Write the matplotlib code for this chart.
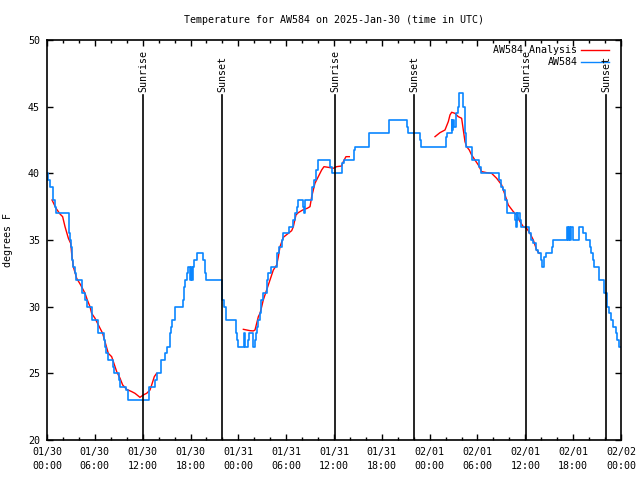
import numpy as np
import matplotlib
matplotlib.use("Agg")
import matplotlib.pyplot as plt
from matplotlib.ticker import MultipleLocator

# ----------------------------------------
# Data (hours since 2025-01-30 00:00 UTC, degrees F)
# ----------------------------------------

obs_hours = [
  0.0, 0.15, 0.4, 0.7, 0.8, 1.0, 1.1, 2.7, 2.85, 3.0, 3.1, 3.2, 3.5, 3.6,
  4.35, 4.45, 4.8, 5.0, 5.7, 6.35, 6.45, 7.15, 7.3, 7.45, 7.7, 8.25, 8.4,
  9.0, 9.2, 9.9, 10.15, 12.85, 13.55, 13.85, 14.25, 14.8, 15.1, 15.4, 15.5,
  15.7, 16.0, 16.1, 17.0, 17.15, 17.35, 17.5, 17.7, 17.9, 18.0, 18.15, 18.3,
  18.5, 18.85, 19.6, 19.8, 20.0, 21.9, 22.0, 22.15, 22.45, 23.7, 23.85, 24.0,
  24.75, 24.85, 25.2, 25.4, 25.8, 26.1, 26.2, 26.35, 26.5, 26.7, 26.9, 27.15,
  27.55, 27.75, 28.05, 28.9, 29.15, 29.45, 29.6, 30.3, 30.8, 31.1, 31.3, 31.5,
  32.05, 32.2, 32.35, 33.2, 33.3, 33.5, 33.8, 34.0, 35.55, 35.7, 37.05, 37.25,
  38.55, 38.65, 40.35, 42.95, 45.1, 45.25, 46.8, 46.95, 50.0, 50.2, 50.75,
  50.85, 50.95, 51.05, 51.3, 51.5, 51.7, 52.2, 52.4, 52.55, 53.3, 54.2, 54.5,
  56.7, 56.9, 57.2, 57.45, 57.65, 57.75, 58.7, 58.8, 58.9, 59.0, 59.1, 59.3,
  59.45, 60.5, 60.7, 61.0, 61.35, 61.55, 61.95, 62.15, 62.35, 62.55, 63.3,
  63.5, 65.18, 65.35, 65.47, 65.6, 65.72, 65.93, 66.77, 67.2, 67.6, 68.1,
  68.25, 68.45, 68.6, 69.25, 69.9, 70.2, 70.5, 70.8, 71.0, 71.35, 71.55,
  71.75, 72.0,
]
obs_temps = [
  40, 39.5, 39, 38.5, 38, 37.5, 37, 35.5, 35, 34.5, 33.5, 33, 32.5, 32,
  31.5, 31, 30.5, 30, 29, 28.5, 28, 27.5, 27, 26.5, 26, 25.5, 25,
  24.5, 24, 23.75, 23, 24, 24.5, 25, 26, 26.5, 27, 28, 28.5,
  29, 29.5, 30, 30.5, 31.5, 32, 32.5, 33, 32, 33, 32, 33,
  33.5, 34, 33.5, 32.5, 32, 31.5, 30.5, 30, 29, 28, 27.5, 27,
  28, 27, 27.5, 28, 27, 27.5, 28, 28.5, 29, 29.5, 30.5, 31,
  32, 32.5, 33, 34, 34.5, 35, 35.5, 36, 36.5, 37, 37.5, 38,
  37.5, 37, 38, 38.5, 39, 39.5, 40.25, 41, 40.5, 40, 40.75, 41,
  41.75, 42, 43, 44, 43.5, 43, 42.5, 42, 42.75, 43, 44,
  43.25, 44, 43.5, 44.5, 45, 46, 45, 43, 42, 41, 40.5, 40,
  39.5, 39, 38.75, 38, 37.5, 37, 36.5, 36, 37, 36.5, 37, 36.5,
  36, 35.5, 35, 34.75, 34.25, 34, 33.5, 33, 33.75, 34, 34.5,
  35, 36, 35, 36, 35, 36, 35, 36, 35.5, 35, 34.5,
  34, 33.5, 33, 32, 31, 30, 29.5, 29, 28.5, 28, 27.5,
  27, 27,
]

# analysis curve, None marks a gap
ana_hours = [
  0.63, 1.13, 1.63, 1.96, 2.26, 2.68, 2.97, 3.09, 3.30, 3.72, 4.22, 4.77,
  5.06, 5.39, 5.60, 6.02, 6.44, 6.98, 7.27, 7.69, 8.11, 8.32, 8.74, 9.16,
  9.49, 9.99, 10.62, 11.04, 11.66, 12.08, 12.5, 12.92, 13.13, 13.46, 13.75,
  None,
  24.63, 25.46, 25.88, 26.09, 26.3, 26.51, 26.72, 26.93, 27.13, 27.55, 27.97,
  28.39, 28.81, 29.02, 29.23, 29.64, 30.27, 30.69, 30.9, 31.23, 31.52, 32.07,
  32.65, 32.99, 33.2, 33.61, 34.03, 34.45, 34.74, 35.29, 35.91, 36.33, 36.96,
  37.17, 37.5, 37.92,
  None,
  48.67, 49.29, 49.92, 50.34, 50.55, 50.76, 51.17, 51.59, 52.01, 52.22, 52.43,
  52.64, 52.97, 53.26, 53.68, 54.1, 54.52, 55.15, 55.77, 56.4, 57.03, 57.45,
  57.86, 58.49, 58.91, 59.33, 59.74, 60.16, 60.58, 61.0, 61.42, 61.75,
]
ana_temps = [
  38.0, 37.38, 36.95, 36.75, 36.0, 35.13, 34.75, 34.0, 33.0, 32.13, 31.63, 31.0,
  30.5, 30.0, 29.5, 29.13, 28.63, 28.0, 27.38, 26.5, 26.25, 25.88, 25.13, 24.63,
  24.13, 23.8, 23.63, 23.5, 23.2, 23.38, 23.5, 23.75, 24.13, 24.75, 25.0,
  None,
  28.3, 28.2, 28.18, 28.25, 28.75, 29.25, 29.5, 30.0, 30.5, 31.25, 32.0,
  32.75, 33.13, 33.75, 34.5, 35.2, 35.5, 35.7, 36.0, 36.88, 37.05, 37.25,
  37.38, 37.5, 38.25, 39.25, 39.75, 40.25, 40.5, 40.45, 40.38, 40.5, 40.55,
  40.88, 41.25, 41.25,
  None,
  42.75, 43.05, 43.25, 43.88, 44.38, 44.58, 44.5, 44.25, 44.13, 43.25, 42.38,
  42.0, 41.75, 41.38, 41.0, 40.63, 40.13, 40.05, 40.0, 39.63, 39.13, 38.38,
  37.63, 37.13, 36.88, 36.38, 36.0, 35.88, 35.5, 35.0, 34.25, 34.0,
]

sun_hours = [12.04, 21.95, 36.13, 46.03, 60.08, 70.12]
sun_labels = ["Sunrise", "Sunset", "Sunrise", "Sunset", "Sunrise", "Sunset"]

tick_labels = [
  "01/30\n00:00", "01/30\n06:00", "01/30\n12:00", "01/30\n18:00",
  "01/31\n00:00", "01/31\n06:00", "01/31\n12:00", "01/31\n18:00",
  "02/01\n00:00", "02/01\n06:00", "02/01\n12:00", "02/01\n18:00",
  "02/02\n00:00",
]

# ----------------------------------------
# Plot
# ----------------------------------------

plt.rcParams["font.family"] = ["DejaVu Sans Mono"]
FS = 7.2
BLUE = "#0a86ff"

fig = plt.figure(figsize=(6.4, 4.8), dpi=100)
ax = fig.add_axes([47 / 640, 40 / 480, 574 / 640, 400 / 480])

ana_x = np.array([np.nan if v is None else v for v in ana_hours], dtype=float)
ana_y = np.array([np.nan if v is None else v for v in ana_temps], dtype=float)

ax.plot(ana_x, ana_y, color="red", lw=1.0)
ax.plot(obs_hours, obs_temps, color=BLUE, lw=1.2, drawstyle="steps-post")

for h, lab in zip(sun_hours, sun_labels):
  ax.axvline(h, ymin=0, ymax=0.8625, color="black", lw=1.2)
  ax.text(h, 0.87, lab, transform=ax.get_xaxis_transform(), rotation=90,
          ha="center", va="bottom", fontsize=FS)

ax.set_xlim(0, 72)
ax.set_ylim(20, 50)
ax.xaxis.set_minor_locator(MultipleLocator(2))
ax.set_xticks(np.arange(0, 73, 6))
ax.set_xticklabels(tick_labels, linespacing=1.55)
ax.yaxis.set_major_locator(MultipleLocator(5))
ax.tick_params(which="both", direction="in", top=True, right=True,
               labelsize=FS, width=1.0)
ax.tick_params(which="major", length=4.5, pad=5)
ax.tick_params(which="minor", length=2.5)
for s in ax.spines.values():
  s.set_linewidth(1.2)

ax.set_ylabel("degrees F", fontsize=FS, labelpad=11)
ax.set_title("Temperature for AW584 on 2025-Jan-30 (time in UTC)",
             fontsize=FS, pad=12)

# ----------------------------------------
# Legend (gnuplot style: text right-aligned, sample on the right)
# ----------------------------------------

for yy, lab, col in [(0.975, "AW584 Analysis", "red"), (0.945, "AW584", BLUE)]:
  ax.text(0.924, yy, lab, transform=ax.transAxes, ha="right", va="center",
          fontsize=FS)
  ax.plot([0.931, 0.979], [yy, yy], transform=ax.transAxes, color=col,
          lw=1.0, clip_on=False)

fig.savefig("out.png", dpi=100)
